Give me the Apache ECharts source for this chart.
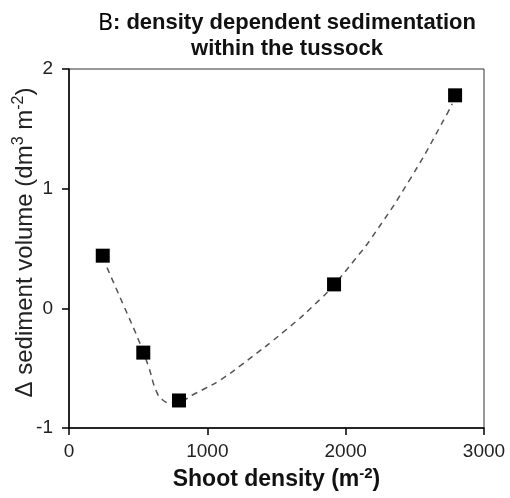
<!DOCTYPE html>
<html>
<head>
<meta charset="utf-8">
<script src="https://cdn.jsdelivr.net/npm/echarts@6/dist/echarts.min.js"></script>
<style>html,body{margin:0;padding:0;background:#fff}#c{width:510px;height:498px}</style>
</head>
<body>
<div id="c"></div>
<script>
// Measured data points
const shootDensity = [244, 537, 795, 1916, 2791];
const sedimentChange = [0.44, -0.37, -0.77, 0.20, 1.78];
// Fitted (dashed) curve
const curveX = [275, 400, 501, 573, 634, 682, 730, 800, 899, 983, 1092, 1249, 1574, 1815, 1918, 2068, 2176, 2466, 2731, 2770];
const curveY = [0.34, 0.01, -0.26, -0.48, -0.70, -0.77, -0.79, -0.78, -0.72, -0.67, -0.60, -0.47, -0.175, 0.075, 0.20, 0.41, 0.57, 1.08, 1.62, 1.71];
const xTicks = [0, 1000, 2000, 3000];
const yTicks = [-1, 0, 1, 2];

const pts = shootDensity.map((x, i) => [x, sedimentChange[i]]);
const curve = curveX.map((x, i) => [x, curveY[i]]);

const chart = echarts.init(document.getElementById('c'), null, {renderer: 'canvas'});
const font = 'Liberation Sans, Arial, sans-serif';
chart.setOption({
  animation: false,
  title: {
    left: 282, top: 5, textAlign: 'center',
    text: '{b|B}{t|: density dependent sedimentation}\n{t|within the tussock}',
    textStyle: {
      rich: {
        b: {fontFamily: 'Noto Sans, DejaVu Sans, sans-serif', fontSize: 23, fontWeight: 'normal', color: '#000', lineHeight: 26},
        t: {fontFamily: font, fontSize: 22, fontWeight: 'bold', color: '#111', lineHeight: 26}
      }
    }
  },
  grid: {left: 69, right: 26, top: 69, bottom: 70, show: true, borderColor: '#333', borderWidth: 1,
         containLabel: false, outerBoundsMode: 'none'},
  xAxis: {
    type: 'value', min: xTicks[0], max: xTicks[xTicks.length - 1], interval: 1000,
    axisLine: {show: true, onZero: false, lineStyle: {color: '#000', width: 1.5}},
    axisTick: {show: true, length: 7, lineStyle: {color: '#000', width: 1.5}},
    axisLabel: {fontFamily: font, fontSize: 19, color: '#222', margin: 14, formatter: v => String(v)},
    splitLine: {show: false},
    name: '{t|Shoot density (m}{s|-2}{t|)}',
    nameLocation: 'middle', nameGap: 38, nameMoveOverlap: false,
    nameTextStyle: {rich: {
      t: {fontFamily: font, fontSize: 23, fontWeight: 'bold', color: '#111'},
      s: {fontFamily: font, fontSize: 15, fontWeight: 'bold', color: '#111', verticalAlign: 'top', padding: [0, 0, 12, 0]}
    }}
  },
  yAxis: {
    type: 'value', min: yTicks[0], max: yTicks[yTicks.length - 1], interval: 1,
    axisLine: {show: true, onZero: false, lineStyle: {color: '#000', width: 1.5}},
    axisTick: {show: true, length: 7, lineStyle: {color: '#000', width: 1.5}},
    axisLabel: {fontFamily: font, fontSize: 19, color: '#222', margin: 16, formatter: v => String(v)},
    splitLine: {show: false},
    name: '{t|Δ sediment volume (dm}{s|3}{t| m}{s|-2}{t|)}',
    nameLocation: 'middle', nameGap: 30, nameMoveOverlap: false,
    nameTextStyle: {padding: [0, 0, 0, 12], rich: {
      t: {fontFamily: font, fontSize: 24, color: '#222'},
      s: {fontFamily: font, fontSize: 16, color: '#222', verticalAlign: 'top', padding: [0, 0, 12, 0]}
    }}
  },
  series: [
    {type: 'line', data: curve, smooth: true, symbol: 'none', z: 1,
     lineStyle: {color: '#555', width: 1.5, type: [6, 5]}},
    {type: 'scatter', data: pts, symbol: 'rect', symbolSize: 14, z: 3,
     itemStyle: {color: '#000', opacity: 1}}
  ]
});
</script>
</body>
</html>
